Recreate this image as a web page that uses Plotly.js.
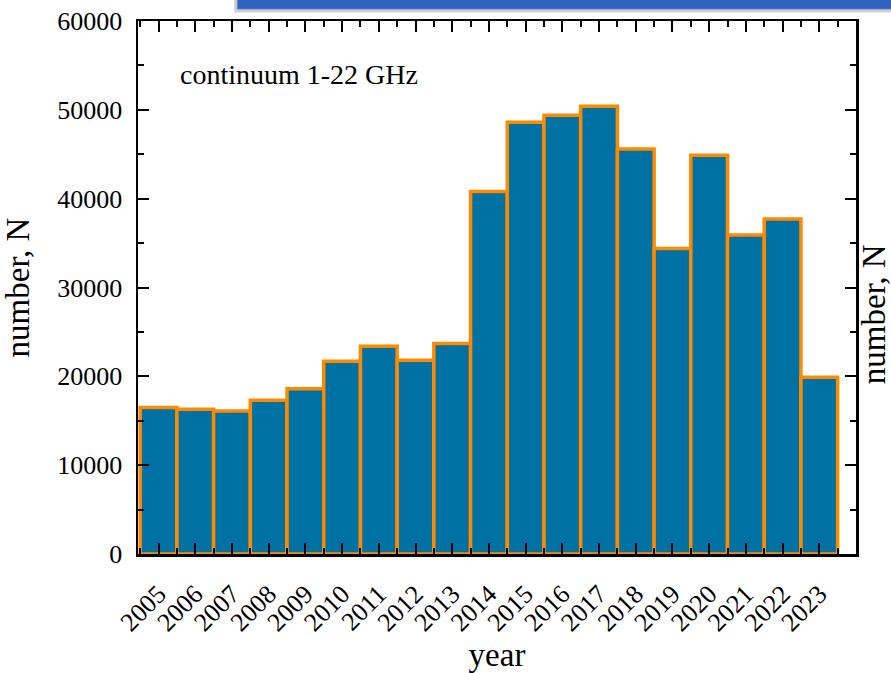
<!DOCTYPE html>
<html>
<head>
<meta charset="utf-8">
<script src="https://cdn.plot.ly/plotly-3.0.1.min.js"></script>
<style>
  html, body { margin: 0; padding: 0; background: #ffffff; }
  #chart { width: 891px; height: 673px; }
</style>
</head>
<body>
<div id="chart"></div>
<script>
// Yearly counts of continuum observations, 1-22 GHz
const years = [2005, 2006, 2007, 2008, 2009, 2010, 2011, 2012, 2013, 2014,
               2015, 2016, 2017, 2018, 2019, 2020, 2021, 2022, 2023];
const counts = [16500, 16300, 16100, 17300, 18600, 21700, 23400, 21800, 23700, 40800,
                48600, 49400, 50400, 45600, 34400, 44900, 35900, 37700, 19900];
const yTicks = [0, 10000, 20000, 30000, 40000, 50000, 60000];
const yTickText = ['0', '10000', '20000', '30000', '40000', '50000', '60000'];

const serif = 'Liberation Serif, Times New Roman, serif';

const trace = {
  type: 'bar',
  x: years,
  y: counts,
  width: 1,
  marker: {
    color: '#0071a3',
    line: { color: '#ff8a00', width: 3.5 }
  },
  hoverinfo: 'x+y'
};

const layout = {
  width: 891,
  height: 673,
  margin: { l: 138, r: 35, t: 21, b: 119 },
  paper_bgcolor: '#ffffff',
  plot_bgcolor: '#ffffff',
  showlegend: false,
  bargap: 0,
  font: { family: serif, color: '#000000' },
  xaxis: {
    range: [2004.44, 2024.0],
    tickmode: 'array',
    tickvals: years,
    ticktext: years.map(String),
    tickangle: -45,
    ticks: 'inside',
    ticklen: 11,
    tickwidth: 2,
    tickcolor: '#000000',
    minor: { tick0: 2004.5, dtick: 0.5, ticks: 'inside', ticklen: 6, tickwidth: 2, tickcolor: '#000000' },
    showline: true,
    linecolor: '#000000',
    linewidth: 2.5,
    mirror: 'ticks',
    showgrid: false,
    zeroline: false,
    ticklabelstandoff: 12,
    tickfont: { family: serif, size: 26, color: '#000000' },
    title: { text: 'year', font: { family: serif, size: 33, color: '#000000' }, standoff: 16 }
  },
  yaxis: {
    range: [0, 60000],
    tickmode: 'array',
    tickvals: yTicks,
    ticktext: yTickText,
    ticks: 'inside',
    ticklen: 11,
    tickwidth: 2,
    tickcolor: '#000000',
    minor: { dtick: 5000, ticks: 'inside', ticklen: 6, tickwidth: 2, tickcolor: '#000000' },
    showline: true,
    linecolor: '#000000',
    linewidth: 2.5,
    mirror: 'ticks',
    showgrid: false,
    zeroline: false,
    ticklabelstandoff: 8,
    tickfont: { family: serif, size: 26, color: '#000000' },
    title: { text: 'number, N', font: { family: serif, size: 33, color: '#000000' }, standoff: 18 }
  },
  annotations: [
    {
      text: 'continuum 1-22 GHz',
      xref: 'paper', yref: 'paper',
      x: 0.0557, y: 0.899,
      xanchor: 'left', yanchor: 'middle',
      showarrow: false,
      font: { family: serif, size: 28, color: '#000000' }
    },
    {
      text: 'number, N',
      xref: 'paper', yref: 'paper',
      x: 1.0, y: 0.45,
      xshift: 18,
      xanchor: 'center', yanchor: 'middle',
      textangle: -90,
      showarrow: false,
      font: { family: serif, size: 33, color: '#000000' }
    }
  ],
  shapes: [
    // shadow under the header band
    {
      type: 'rect', xref: 'paper', yref: 'paper', layer: 'above',
      x0: 0.134, x1: 1.06, y0: 1.016, y1: 1.045,
      fillcolor: 'rgba(120,120,120,0.35)', line: { width: 0 }
    },
    // header band
    {
      type: 'rect', xref: 'paper', yref: 'paper', layer: 'above',
      x0: 0.138, x1: 1.06, y0: 1.022, y1: 1.05,
      fillcolor: '#2f62be', line: { color: '#8fa6d6', width: 1 }
    }
  ]
};

Plotly.newPlot('chart', [trace], layout, { displayModeBar: false, staticPlot: true });
</script>
</body>
</html>
